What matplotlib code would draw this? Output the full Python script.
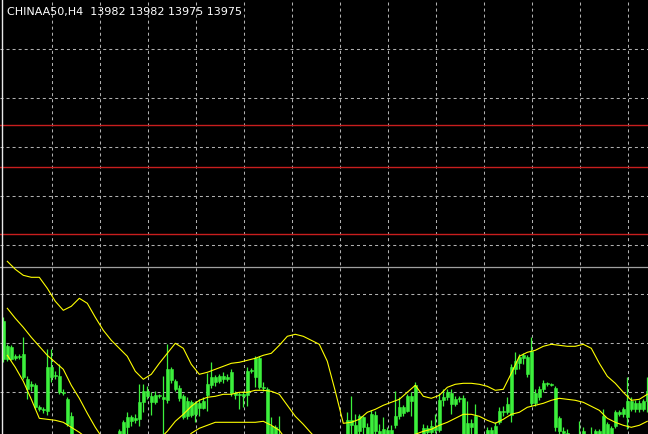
import numpy as np
import matplotlib
matplotlib.use("Agg")
import matplotlib.pyplot as plt

# ---------------- data ----------------
header_text = "CHINAA50,H4  13982 13982 13975 13975"

opens = [
    13883, 13896, 13883, 13886, 13885, 13888, 13863, 13856, 13857, 13835,
    13833, 13831, 13875, 13866, 13866, 13850, 13843, 13826, 13803, 13793,
    13798, 13778, 13785, 13767, 13773, 13763, 13771, 13783, 13791, 13798,
    13803, 13815, 13825, 13822, 13823, 13840, 13851, 13846, 13840, 13846,
    13845, 13842, 13873, 13861, 13854, 13846, 13826, 13840, 13828, 13839,
    13834, 13847, 13857, 13865, 13861, 13866, 13863, 13870, 13849, 13847,
    13848, 13847, 13871, 13865, 13884, 13855, 13853, 13803, 13815, 13803,
    13797, 13791, 13795, 13781, 13773, 13777, 13769, 13755, 13759, 13753,
    13745, 13751, 13761, 13769, 13778, 13791, 13803, 13822, 13817, 13811,
    13825, 13815, 13805, 13827, 13811, 13813, 13802, 13812, 13817, 13826,
    13835, 13831, 13846, 13857, 13797, 13802, 13814, 13810, 13815, 13812,
    13842, 13845, 13849, 13838, 13843, 13844, 13803, 13819, 13826, 13806,
    13798, 13803, 13812, 13807, 13820, 13831, 13830, 13827, 13873, 13879,
    13884, 13885, 13891, 13839, 13845, 13853, 13859, 13858, 13854, 13824,
    13811, 13809, 13806, 13798, 13795, 13811, 13803, 13797, 13803, 13811,
    13805, 13818, 13807, 13816, 13830, 13828, 13825, 13841, 13833, 13839,
    13833, 13841,
]
highs = [
    13925, 13898, 13897, 13888, 13888, 13905, 13866, 13861, 13859, 13837,
    13835, 13893, 13893, 13871, 13878, 13853, 13845, 13830, 13807, 13803,
    13803, 13791, 13793, 13778, 13783, 13775, 13788, 13795, 13803, 13813,
    13822, 13830, 13827, 13828, 13858, 13858, 13856, 13850, 13851, 13848,
    13866, 13898, 13875, 13863, 13857, 13848, 13845, 13842, 13841, 13843,
    13845, 13869, 13880, 13867, 13868, 13870, 13868, 13873, 13851, 13850,
    13851, 13875, 13874, 13886, 13886, 13860, 13855, 13825, 13817, 13826,
    13803, 13799, 13801, 13788, 13781, 13785, 13777, 13765, 13771, 13763,
    13758, 13765, 13773, 13783, 13795, 13805, 13830, 13846, 13828, 13828,
    13826, 13819, 13832, 13831, 13818, 13825, 13815, 13817, 13851, 13845,
    13837, 13848, 13850, 13860, 13805, 13818, 13817, 13822, 13828, 13849,
    13853, 13853, 13853, 13846, 13846, 13847, 13841, 13823, 13838, 13807,
    13806, 13815, 13815, 13820, 13835, 13836, 13845, 13878, 13890, 13888,
    13889, 13887, 13905, 13853, 13856, 13862, 13860, 13859, 13856, 13826,
    13815, 13813, 13807, 13806, 13821, 13815, 13807, 13815, 13813, 13813,
    13833, 13820, 13816, 13832, 13832, 13835, 13865, 13845, 13842, 13842,
    13843, 13865,
]
lows = [
    13880, 13881, 13882, 13882, 13883, 13863, 13843, 13851, 13833, 13831,
    13829, 13827, 13860, 13863, 13848, 13847, 13816, 13795, 13788, 13781,
    13773, 13768, 13763, 13755, 13758, 13753, 13765, 13773, 13781, 13793,
    13798, 13803, 13816, 13819, 13816, 13830, 13843, 13827, 13838, 13844,
    13807, 13839, 13859, 13851, 13841, 13823, 13823, 13825, 13820, 13826,
    13833, 13831, 13854, 13856, 13859, 13859, 13861, 13846, 13843, 13833,
    13835, 13836, 13869, 13855, 13853, 13851, 13795, 13793, 13798, 13791,
    13785, 13781, 13775, 13768, 13761, 13765, 13751, 13743, 13749, 13738,
    13733, 13743, 13753, 13761, 13773, 13783, 13798, 13806, 13803, 13805,
    13806, 13801, 13803, 13803, 13798, 13797, 13797, 13798, 13814, 13823,
    13826, 13830, 13826, 13793, 13788, 13801, 13807, 13807, 13809, 13810,
    13836, 13842, 13828, 13836, 13840, 13798, 13801, 13805, 13803, 13793,
    13791, 13798, 13803, 13803, 13818, 13826, 13828, 13820, 13868, 13873,
    13878, 13865, 13836, 13836, 13842, 13850, 13856, 13856, 13811, 13805,
    13803, 13801, 13793, 13788, 13791, 13798, 13791, 13793, 13799, 13801,
    13801, 13803, 13801, 13814, 13826, 13825, 13813, 13831, 13830, 13830,
    13831, 13830,
]
closes = [
    13921, 13883, 13895, 13884, 13886, 13865, 13853, 13858, 13835, 13833,
    13832, 13875, 13865, 13867, 13850, 13849, 13818, 13803, 13793, 13798,
    13778, 13785, 13767, 13773, 13763, 13771, 13783, 13791, 13798, 13811,
    13820, 13825, 13821, 13824, 13840, 13851, 13846, 13840, 13847, 13847,
    13843, 13873, 13862, 13853, 13844, 13825, 13841, 13827, 13839, 13834,
    13841, 13858, 13865, 13860, 13866, 13863, 13865, 13849, 13847, 13848,
    13846, 13871, 13872, 13884, 13855, 13854, 13798, 13816, 13805, 13797,
    13791, 13795, 13781, 13773, 13777, 13769, 13755, 13759, 13753, 13745,
    13751, 13761, 13769, 13778, 13791, 13801, 13822, 13817, 13807, 13826,
    13815, 13805, 13828, 13811, 13803, 13802, 13812, 13805, 13826, 13835,
    13829, 13846, 13841, 13797, 13802, 13814, 13810, 13816, 13812, 13842,
    13845, 13850, 13838, 13843, 13844, 13803, 13819, 13815, 13806, 13798,
    13803, 13812, 13807, 13816, 13831, 13830, 13838, 13875, 13881, 13885,
    13887, 13868, 13839, 13849, 13853, 13859, 13858, 13857, 13815, 13811,
    13809, 13806, 13798, 13795, 13803, 13803, 13797, 13803, 13811, 13805,
    13826, 13807, 13814, 13830, 13828, 13833, 13841, 13833, 13839, 13833,
    13841, 13851,
]

# Bollinger band readings, one every second bar (bars 1, 3, 5, ... 161)
band_bars = list(range(1, 162, 2))
upper_band = [
    13981, 13973, 13967, 13965, 13965, 13954, 13941, 13932, 13936, 13944,
    13939, 13925, 13912, 13902, 13894, 13886, 13871, 13863, 13868, 13879,
    13889, 13899, 13894, 13878, 13868, 13870, 13873, 13876, 13879, 13880,
    13882, 13884, 13887, 13889, 13897, 13906, 13908, 13906, 13902, 13898,
    13881, 13851, 13819, 13820, 13823, 13830, 13833, 13837, 13840, 13843,
    13850, 13857, 13846, 13844, 13847, 13855, 13858, 13859, 13859, 13858,
    13856, 13852, 13853, 13869, 13886, 13890, 13892, 13896, 13898, 13897,
    13896, 13896, 13898, 13894, 13879, 13866, 13859, 13850, 13842, 13843,
    13848,
]
middle_band = [
    13934, 13924, 13915, 13905, 13896, 13887, 13880, 13873, 13857, 13844,
    13829, 13815, 13803, 13795, 13791, 13791, 13793, 13796, 13799, 13803,
    13811, 13821, 13828, 13836, 13842, 13845, 13846, 13848, 13848, 13850,
    13850, 13852, 13852, 13851, 13848, 13837, 13826, 13818, 13809, 13801,
    13795, 13791, 13788, 13787, 13788, 13791, 13794, 13797, 13800, 13803,
    13806, 13808, 13811, 13813, 13817, 13820, 13824, 13828, 13828, 13826,
    13822, 13819, 13823, 13828, 13830, 13835, 13837, 13839, 13842, 13844,
    13843, 13842, 13840, 13836, 13832, 13824, 13820, 13817, 13815, 13817,
    13821,
]
lower_band = [
    13887, 13875, 13861, 13843, 13824, 13823, 13822, 13820, 13815, 13810,
    13804, 13793, 13783, 13773, 13765, 13761, 13759, 13761, 13767, 13775,
    13785, 13793, 13801, 13809, 13814, 13817, 13820, 13820, 13820, 13820,
    13820, 13820, 13821, 13817, 13812, 13801, 13788, 13773, 13758, 13743,
    13733, 13728, 13738, 13748, 13753, 13753, 13755, 13757, 13760, 13763,
    13765, 13767, 13773, 13781, 13783, 13785, 13787, 13791, 13795, 13797,
    13793, 13788, 13791, 13793, 13788, 13783, 13782, 13783, 13785, 13788,
    13790, 13789, 13787, 13783, 13785, 13783, 13785, 13787, 13791, 13793,
    13795,
]

level_lines = [14117, 14075, 14008]   # red horizontal levels
bid_price = 13975                      # grey bid line

# ---------------- style ----------------
W, H = 648, 435
BG = "#000000"
CANDLE = "#3cf03c"
BAND = "#ffff00"
GRID = "#b0b0b0"
RED = "#c81e1e"
BIDC = "#a0a0a0"

fig = plt.figure(figsize=(W / 100, H / 100), dpi=100)
fig.patch.set_facecolor(BG)
ax = fig.add_axes([0, 0, 1, 1])
ax.set_facecolor(BG)
for s in ax.spines.values():
    s.set_visible(False)
ax.set_xticks([])
ax.set_yticks([])

# bar k sits at pixel x = 3.3 + 4k ; price = 14243.3 - pixel y
ax.set_xlim(-3.3 / 4, (W - 3.3) / 4)
ax.set_ylim(14243.3 - H, 14243.3)

# grid
dash = (0, (2.9, 2.9))
for gy in np.arange(14193.3, 14243.3 - H, -49):
    ax.axhline(gy, color=GRID, lw=0.75, ls=dash, zorder=1)
for gx in range(12, 162, 12):
    ax.axvline(gx + 0.1, color=GRID, lw=0.75, ls=dash, zorder=1)

# horizontal levels
for lv in level_lines:
    ax.axhline(lv, color=RED, lw=1.0, zorder=2)
ax.axhline(bid_price, color=BIDC, lw=0.9, zorder=2)

# candles
idx = np.arange(len(opens))
o = np.array(opens, float)
h = np.array(highs, float)
l = np.array(lows, float)
c = np.array(closes, float)
ax.vlines(idx, l, h, color=CANDLE, lw=0.9, zorder=3)
body_lo = np.minimum(o, c)
body_h = np.maximum(np.abs(c - o), 1.5)
ax.bar(idx, body_h, bottom=body_lo, width=0.72, color=CANDLE,
       edgecolor=CANDLE, linewidth=0.4, zorder=4)

# bands
for band in (upper_band, middle_band, lower_band):
    ax.plot(band_bars, band, color=BAND, lw=0.8, zorder=5)

# left frame line
ax.axvline((2.0 - 3.3) / 4, color="#e8e8e8", lw=1.0, zorder=6)

# header
fig.text(7 / W, 1 - 12.5 / H, header_text, color="white", fontsize=8,
         family="DejaVu Sans", ha="left", va="center")

fig.savefig("out.png", dpi=100, facecolor=BG)
